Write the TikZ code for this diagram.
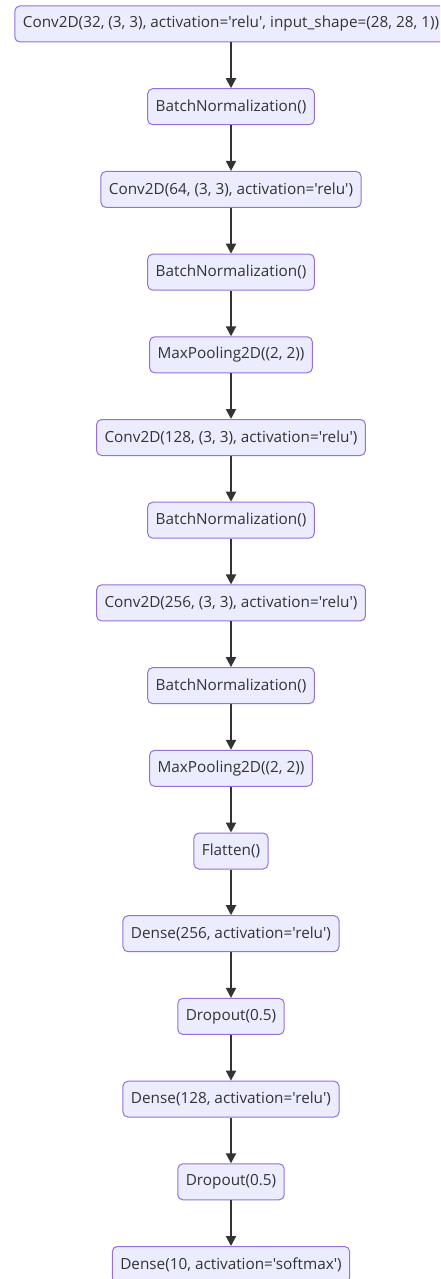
\documentclass[tikz,border=0pt]{standalone}
\usepackage{fontspec}
\setmainfont{Open Sans}[Ligatures=TeXOff]
\usetikzlibrary{arrows.meta}
\definecolor{nodefill}{HTML}{ECECFF}
\definecolor{nodeline}{HTML}{9370DB}
\definecolor{edgecol}{HTML}{333333}
\tikzset{
  layer/.style={draw=nodeline, fill=nodefill, line width=1pt, rounded corners=5pt,
    minimum height=36pt, inner xsep=8pt, inner ysep=0pt, text=edgecol,
    font=\fontsize{15.3}{17}\selectfont},
  flow/.style={draw=edgecol, line width=2pt, -{Triangle[length=10pt,width=10pt]}}
}
\begin{document}
\begin{tikzpicture}[x=1pt,y=-1pt]
\useasboundingbox (0,0) rectangle (440,1279);
\clip (0,0) rectangle (440,1279);
\def\cx{231}
\def\dy{82.7}
\node[layer] (n0) at (\cx,24) {Conv2D(32, (3, 3), activation='relu', input\_shape=(28, 28, 1))};
\node[layer] (n1) at (\cx,24+1*\dy) {BatchNormalization()};
\node[layer] (n2) at (\cx,24+2*\dy) {Conv2D(64, (3, 3), activation='relu')};
\node[layer] (n3) at (\cx,24+3*\dy) {BatchNormalization()};
\node[layer] (n4) at (\cx,24+4*\dy) {MaxPooling2D((2, 2))};
\node[layer] (n5) at (\cx,24+5*\dy) {Conv2D(128, (3, 3), activation='relu')};
\node[layer] (n6) at (\cx,24+6*\dy) {BatchNormalization()};
\node[layer] (n7) at (\cx,24+7*\dy) {Conv2D(256, (3, 3), activation='relu')};
\node[layer] (n8) at (\cx,24+8*\dy) {BatchNormalization()};
\node[layer] (n9) at (\cx,24+9*\dy) {MaxPooling2D((2, 2))};
\node[layer] (n10) at (\cx,24+10*\dy) {Flatten()};
\node[layer] (n11) at (\cx,24+11*\dy) {Dense(256, activation='relu')};
\node[layer] (n12) at (\cx,24+12*\dy) {Dropout(0.5)};
\node[layer] (n13) at (\cx,24+13*\dy) {Dense(128, activation='relu')};
\node[layer] (n14) at (\cx,24+14*\dy) {Dropout(0.5)};
\node[layer] (n15) at (\cx,24+15*\dy) {Dense(10, activation='softmax')};
\foreach \a/\b in {n0/n1,n1/n2,n2/n3,n3/n4,n4/n5,n5/n6,n6/n7,n7/n8,n8/n9,n9/n10,n10/n11,n11/n12,n12/n13,n13/n14,n14/n15}
  \draw[flow] (\a) -- (\b);
\end{tikzpicture}
\end{document}
